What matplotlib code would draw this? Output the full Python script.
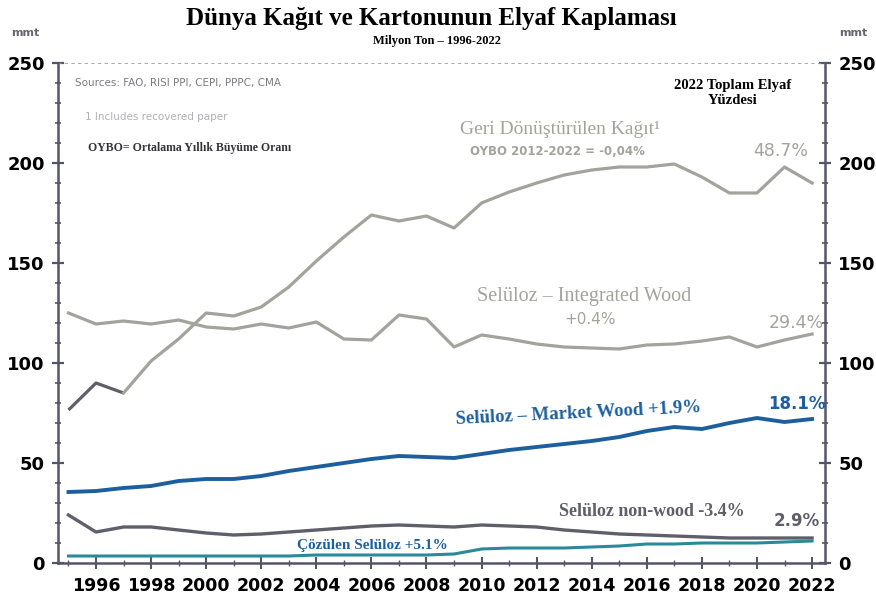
import matplotlib
matplotlib.use("Agg")
import matplotlib.pyplot as plt
from matplotlib.ticker import MultipleLocator

years = list(range(1995, 2023))
recycled = [76.5, 90, 85, 101, 112, 125, 123.5, 128, 138, 151, 163, 174, 171, 173.5,
            167.5, 180, 185.5, 190, 194, 196.5, 198, 198, 199.5, 193, 185, 185, 198, 190]
integrated_wood = [125, 119.5, 121, 119.5, 121.5, 118, 117, 119.5, 117.5, 120.5, 112, 111.5,
                   124, 122, 108, 114, 112, 109.5, 108, 107.5, 107, 109, 109.5, 111, 113,
                   108, 111.5, 114.5]
market_wood = [35.5, 36, 37.5, 38.5, 41, 42, 42, 43.5, 46, 48, 50, 52, 53.5, 53, 52.5, 54.5,
               56.5, 58, 59.5, 61, 63, 66, 68, 67, 70, 72.5, 70.5, 72]
non_wood = [24, 15.5, 18, 18, 16.5, 15, 14, 14.5, 15.5, 16.5, 17.5, 18.5, 19, 18.5, 18, 19,
            18.5, 18, 16.5, 15.5, 14.5, 14, 13.5, 13, 12.5, 12.5, 12.5, 12.5]
dissolving = [3.5, 3.5, 3.5, 3.5, 3.5, 3.5, 3.5, 3.5, 3.5, 4, 4, 4, 4, 4, 4.5, 7, 7.5, 7.5,
              7.5, 8, 8.5, 9.5, 9.5, 10, 10, 10, 10.5, 11]
xtick_years = list(range(1996, 2023, 2))
yticks = [0, 50, 100, 150, 200, 250]

LIGHT = "#a3a39d"
DARK = "#5f5f6a"
BLUE = "#1d5f9e"
TEAL = "#2b8a9a"

fig = plt.figure(figsize=(8.76, 6.03), dpi=100)
ax = fig.add_axes([58/876, 1-563/603, (825-58)/876, 500/603])
ax.set_xlim(1994.62, 2022.47)
ax.set_ylim(0, 250)

ax.plot(years[:3], recycled[:3], color=DARK, lw=2.3, solid_capstyle="butt")
ax.plot(years[2:], recycled[2:], color=LIGHT, lw=2.3)
ax.plot(years, integrated_wood, color=LIGHT, lw=2.3)
ax.plot(years, market_wood, color=BLUE, lw=2.8)
ax.plot(years, non_wood, color=DARK, lw=2.4)
ax.plot(years, dissolving, color=TEAL, lw=2.2)

ax.axhline(250, color="#9a9aa8", lw=1.2, ls=(0, (2, 2)))

ax.spines["top"].set_visible(False)
for s in ["left", "right", "bottom"]:
    ax.spines[s].set_color("#55556a")
    ax.spines[s].set_linewidth(1.8)

ax.set_yticks(yticks)
ax.yaxis.set_minor_locator(MultipleLocator(10))
ax.tick_params(axis="y", which="both", left=True, right=True, labelleft=True,
               labelright=True, color="#55556a", direction="inout")
ax.tick_params(axis="y", which="major", length=9, width=1.6, labelsize=13, pad=5)
ax.tick_params(axis="y", which="minor", length=5, width=1.2)
ax.set_xticks(xtick_years)
ax.set_xticks(years, minor=True)
ax.tick_params(axis="x", which="major", length=8, width=1.5, labelsize=12.5,
               direction="inout", color="#55556a", pad=6)
ax.tick_params(axis="x", which="minor", length=5, width=1.0, direction="inout",
               color="#55556a")
ax.set_xticklabels([str(y) for y in xtick_years])
for lab in ax.get_xticklabels() + ax.get_yticklabels():
    lab.set_fontweight("bold")
for t in ax.yaxis.get_major_ticks():
    t.label1.set_fontweight("bold")
    t.label2.set_fontweight("bold")


def T(x, y, s, **kw):
    fig.text(x/876, 1-y/603, s, **kw)


T(431, 18, "Dünya Kağıt ve Kartonunun Elyaf Kaplaması", ha="center", va="center",
  fontsize=18, fontweight="bold", family="Liberation Serif")
T(437, 41, "Milyon Ton – 1996-2022", ha="center", va="center", fontsize=9,
  fontweight="bold", family="Liberation Serif")
T(25, 33, "mmt", ha="center", va="center", fontsize=8, fontweight="bold", color="#666670")
T(853, 33, "mmt", ha="center", va="center", fontsize=8, fontweight="bold", color="#666670")

T(75, 83, "Sources: FAO, RISI PPI, CEPI, PPPC, CMA", fontsize=7.5, color="#7a7a84",
  va="center")
T(85, 117, "1 Includes recovered paper", fontsize=7.5, color="#b0b0b8", va="center")
T(88, 148, "OYBO= Ortalama Yıllık Büyüme Oranı", fontsize=8.5, color="#333338",
  fontweight="bold", va="center", family="Liberation Serif")
T(733, 93, "2022 Toplam Elyaf\nYüzdesi", fontsize=10.5, fontweight="bold", ha="center",
  va="center", family="Liberation Serif", linespacing=1.3)
T(560, 130, "Geri Dönüştürülen Kağıt¹", fontsize=14, color=LIGHT, ha="center",
  va="center", family="Liberation Serif")
T(557, 151, "OYBO 2012-2022 = -0,04%", fontsize=8.5, color=LIGHT, ha="center",
  va="center", fontweight="bold")
T(781, 151, "48.7%", fontsize=12.5, color=LIGHT, ha="center", va="center")
T(584, 297, "Selüloz – Integrated Wood", fontsize=14.5, color=LIGHT, ha="center",
  va="center", family="Liberation Serif")
T(590, 320, "+0.4%", fontsize=11, color=LIGHT, ha="center", va="center")
T(796, 323, "29.4%", fontsize=12.5, color=LIGHT, ha="center", va="center")
T(578, 414, "Selüloz – Market Wood +1.9%", fontsize=13.5, color=BLUE, ha="center",
  va="center", fontweight="bold", family="Liberation Serif", rotation=2.8)
T(797, 404, "18.1%", fontsize=12, color=BLUE, ha="center", va="center", fontweight="bold")
T(652, 512, "Selüloz non-wood -3.4%", fontsize=13, color=DARK, ha="center", va="center",
  fontweight="bold", family="Liberation Serif")
T(797, 521, "2.9%", fontsize=12, color=DARK, ha="center", va="center", fontweight="bold")
T(372, 546, "Çözülen Selüloz +5.1%", fontsize=11, color=BLUE, ha="center", va="center",
  fontweight="bold", family="Liberation Serif")

fig.savefig("out.png", dpi=100)
